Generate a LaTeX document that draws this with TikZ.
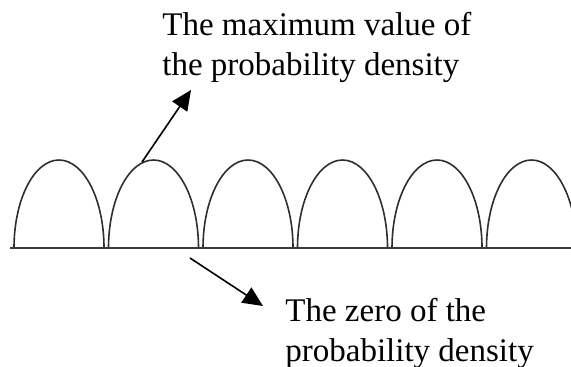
\documentclass[tikz,border=0pt]{standalone}
\usepackage{fontspec}
\setmainfont{Liberation Serif}
\usetikzlibrary{arrows.meta}
\definecolor{ArchGray}{HTML}{2E2E2E}
\definecolor{AxisGray}{HTML}{3A3A3A}

\begin{document}
\begin{tikzpicture}[
    x=0.5pt, y=-0.5pt,
    arch/.style={
      draw=ArchGray,
      line width=0.8pt
    },
    axis/.style={
      draw=AxisGray,
      line width=0.95pt
    },
    arr/.style={
      -{Triangle[length=10pt,width=9pt]},
      line width=0.8pt,
      color=black
    },
    note/.style={
      font=\fontsize{16.5}{20}\selectfont,
      align=left,
      inner sep=0pt
    }
  ]
  \useasboundingbox (0,0) rectangle (571,366);

  % Probability density arches
  \begin{scope}
    \clip (0,0) rectangle (571,366);
    \draw[arch] (14,248)    arc[start angle=180, end angle=0, x radius=22.5pt, y radius=44pt];
    \draw[arch] (108.5,248) arc[start angle=180, end angle=0, x radius=22.5pt, y radius=44pt];
    \draw[arch] (203,248)   arc[start angle=180, end angle=0, x radius=22.5pt, y radius=44pt];
    \draw[arch] (297.5,248) arc[start angle=180, end angle=0, x radius=22.5pt, y radius=44pt];
    \draw[arch] (392,248)   arc[start angle=180, end angle=0, x radius=22.5pt, y radius=44pt];
    \draw[arch] (486.5,248) arc[start angle=180, end angle=0, x radius=22.5pt, y radius=44pt];
  \end{scope}

  % Axis
  \coordinate (axl) at (10,248);
  \coordinate (axr) at (571,248);
  \draw[axis] (axl) -- (axr);

  % Labels
  \node[note, anchor=north west] (maxlabel) at (162,12)
    {The maximum value of\\the probability density};
  \node[note, anchor=north west] (zerolabel) at (285,298)
    {The zero of the\\probability density};

  % Pointers
  \coordinate (maxpt) at (142,162);
  \coordinate (maxtip) at (191,90);
  \coordinate (zeropt) at (190,258);
  \coordinate (zerotip) at (263,306);
  \draw[arr] (maxpt) -- (maxtip);
  \draw[arr] (zeropt) -- (zerotip);

\end{tikzpicture}
\end{document}
